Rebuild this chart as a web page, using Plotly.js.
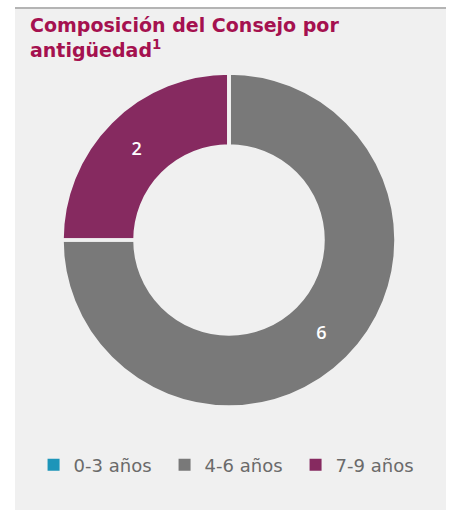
<!DOCTYPE html>
<html>
<head>
<meta charset="utf-8">
<script src="https://cdn.plot.ly/plotly-3.0.1.min.js"></script>
<style>
  html, body { margin: 0; padding: 0; background: #ffffff; }
  #panel { position: absolute; left: 15px; top: 7px; width: 431px; height: 503px; background: #f0f0f0; border-top: 2px solid #b4b4b4; box-sizing: border-box; }
  #chart { position: absolute; left: 0; top: 0; width: 450px; height: 510px; }
</style>
</head>
<body>
<div id="panel"></div>
<div id="chart"></div>
<script>
const categories = ['0-3 años', '4-6 años', '7-9 años'];
const members = [0, 6, 2];
const sliceColors = ['#1d95b9', '#797979', '#862a60'];
const titleText = 'Composición del Consejo por<br>antigüedad<sup>1</sup>';

const sliceText = members.map(v => v > 0 ? String(v) : '');

const pieBase = {
  type: 'pie',
  labels: categories,
  values: members,
  sort: false,
  direction: 'clockwise',
  rotation: 0,
  hole: 0.563,
  domain: {x: [47 / 431, 381 / 431], y: [0, 1]}
};

const data = [
  Object.assign({}, pieBase, {
    marker: {colors: sliceColors, line: {width: 0}},
    text: sliceText,
    textinfo: 'text',
    textposition: 'inside',
    insidetextorientation: 'horizontal',
    textfont: {family: 'Open Sans, sans-serif', size: 18, color: '#ffffff', weight: 600},
    hoverinfo: 'label+value',
    showlegend: true
  }),
  Object.assign({}, pieBase, {
    marker: {colors: ['rgba(0,0,0,0)', 'rgba(0,0,0,0)', 'rgba(0,0,0,0)'], line: {width: 3.5, color: '#f0f0f0'}},
    textinfo: 'none',
    hoverinfo: 'skip',
    showlegend: false
  })
];

const layout = {
  width: 450,
  height: 510,
  paper_bgcolor: 'rgba(0,0,0,0)',
  plot_bgcolor: 'rgba(0,0,0,0)',
  margin: {l: 15, r: 4, t: 73, b: 103, autoexpand: false},
  title: {
    text: titleText,
    x: 30 / 450,
    xref: 'container',
    xanchor: 'left',
    y: 1 - 32 / 510,
    yref: 'container',
    yanchor: 'top',
    font: {family: 'DejaVu Sans, sans-serif', size: 19, color: '#a5114f', weight: 700}
  },
  showlegend: true,
  legend: {
    orientation: 'h',
    x: 0.499,
    xanchor: 'center',
    y: -0.174,
    yanchor: 'middle',
    entrywidth: 86,
    entrywidthmode: 'pixels',
    font: {family: 'DejaVu Sans, sans-serif', size: 18, color: '#6a6a6a'},
    bgcolor: 'rgba(0,0,0,0)',
    traceorder: 'normal'
  }
};

Plotly.newPlot('chart', data, layout, {displayModeBar: false, staticPlot: true});
</script>
</body>
</html>
